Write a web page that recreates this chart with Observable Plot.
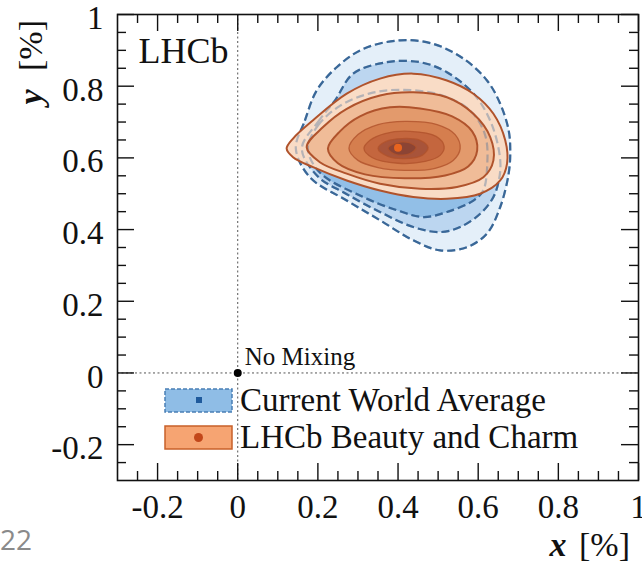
<!DOCTYPE html>
<html><head><meta charset="utf-8">
<script src="https://cdn.jsdelivr.net/npm/d3@7"></script>
<script src="https://cdn.jsdelivr.net/npm/@observablehq/plot@0.6"></script>
<style>
body{margin:0;background:#fff;}
#chart{position:relative;width:642px;height:564px;overflow:hidden;background:#fff}
</style></head><body><div id="chart"></div>
<script>
// ---- tick values ----
const xMajor = [-0.2, 0, 0.2, 0.4, 0.6, 0.8, 1];
const yMajor = [-0.2, 0, 0.2, 0.4, 0.6, 0.8, 1];
const xMinor = [-0.25,-0.15,-0.1,-0.05,0.05,0.1,0.15,0.25,0.3,0.35,0.45,0.5,0.55,0.65,0.7,0.75,0.85,0.9,0.95];
const yMinor = [-0.25,-0.15,-0.1,-0.05,0.05,0.1,0.15,0.25,0.3,0.35,0.45,0.5,0.55,0.65,0.7,0.75,0.85,0.9,0.95];

// ---- Current World Average contours (x,y in %) ----
const wa3 = [[0.145,0.626],[0.1675,0.704],[0.197,0.788],[0.247,0.853],[0.313,0.904],[0.405,0.928],[0.488,0.918],[0.563,0.877],[0.622,0.816],[0.655,0.751],[0.676,0.677],[0.68,0.62],[0.676,0.556],[0.655,0.463],[0.622,0.389],[0.572,0.351],[0.505,0.342],[0.438,0.370],[0.355,0.426],[0.272,0.481],[0.18,0.546]];
const wa2 = [[0.16,0.626],[0.2,0.7],[0.2425,0.760],[0.288,0.835],[0.372,0.867],[0.455,0.867],[0.522,0.839],[0.5925,0.774],[0.635,0.690],[0.655,0.593],[0.652,0.540],[0.638,0.491],[0.605,0.444],[0.555,0.407],[0.505,0.393],[0.438,0.407],[0.355,0.449],[0.27,0.500],[0.2,0.548]];
const wa1 = [[0.175,0.626],[0.2,0.69],[0.255,0.745],[0.33,0.78],[0.405,0.79],[0.505,0.776],[0.58,0.732],[0.6175,0.663],[0.6225,0.579],[0.6125,0.509],[0.588,0.481],[0.522,0.449],[0.463,0.435],[0.397,0.454],[0.3125,0.491],[0.205,0.559]];

// ---- LHCb Beauty and Charm contours (outer to inner) ----
const lhcb1 = [[0.122,0.626],[0.138,0.602],[0.188,0.574],[0.272,0.537],[0.355,0.509],[0.438,0.491],[0.522,0.486],[0.605,0.500],[0.655,0.537],[0.672,0.584],[0.6675,0.649],[0.638,0.723],[0.588,0.779],[0.522,0.816],[0.438,0.835],[0.355,0.821],[0.272,0.779],[0.188,0.705],[0.138,0.654]];
const lhcb2 = [[0.172,0.630],[0.205,0.588],[0.272,0.556],[0.355,0.528],[0.455,0.514],[0.547,0.519],[0.613,0.546],[0.638,0.593],[0.63,0.658],[0.588,0.723],[0.522,0.769],[0.438,0.783],[0.355,0.774],[0.272,0.737],[0.213,0.686]];
const lhcb3 = [[0.225,0.626],[0.25,0.585],[0.3175,0.554],[0.4175,0.543],[0.5175,0.551],[0.575,0.576],[0.5975,0.621],[0.585,0.674],[0.535,0.716],[0.455,0.738],[0.38,0.741],[0.305,0.716],[0.255,0.674]];
const lhcb4 = [[0.2775,0.626],[0.30,0.593],[0.35,0.573],[0.4175,0.565],[0.4925,0.571],[0.5375,0.593],[0.555,0.626],[0.5425,0.665],[0.4975,0.693],[0.4175,0.702],[0.35,0.693],[0.30,0.665]];
const lhcb5 = [[0.315,0.626],[0.335,0.601],[0.40,0.585],[0.4675,0.590],[0.505,0.607],[0.515,0.632],[0.495,0.660],[0.43,0.674],[0.3675,0.668],[0.33,0.649]];
const lhcb6 = [[0.35,0.626],[0.375,0.604],[0.4175,0.598],[0.46,0.607],[0.475,0.629],[0.455,0.649],[0.41,0.654],[0.37,0.646]];
const lhcb7 = [[0.375,0.626],[0.395,0.609],[0.43,0.612],[0.445,0.629],[0.425,0.643],[0.39,0.640]];
const lhcbCentre = [[0.40, 0.628]];
const noMixing = [[0, 0]];

const waContours = [wa3, wa2, wa1];
const waFills = ["#e4eff9", "#bcd6f0", "#92bfe7"];
const lhcbContours = [lhcb1, lhcb2, lhcb3, lhcb4, lhcb5, lhcb6, lhcb7];
const lhcbFills = ["#f9dcc6", "#f0bc98", "#e39a6c", "#d57e4e", "#c4663e", "#a8543a", "#8c4434"];

const W = 642, H = 564, mL = 117, mR = 4, mT = 14, mB = 84;
const FW = W - mL - mR, FH = H - mT - mB;
const serif = "'Liberation Serif','Times New Roman',serif";
const blueLine = "#3a6898", orangeLine = "#b0532c";

const cont = (data, o) => Plot.line(data, {x: d => d[0], y: d => d[1], curve: "catmull-rom-closed", ...o});
const tickStyle = {stroke: "#111", strokeWidth: 1.4};

const marks = [
  Plot.ruleX([0], {stroke: "#555", strokeDasharray: "2,2.5", strokeWidth: 1}),
  Plot.ruleY([0], {stroke: "#555", strokeDasharray: "2,2.5", strokeWidth: 1}),
  ...waContours.map((c, i) => cont(c, {fill: waFills[i], stroke: blueLine, strokeWidth: 2.2, strokeDasharray: "8,4", strokeLinecap: "butt"})),
  ...lhcbContours.map((c, i) => cont(c, {fill: lhcbFills[i], stroke: "none"})),
  ...waContours.map(c => cont(c, {fill: "none", stroke: blueLine, strokeOpacity: 0.35, strokeWidth: 2.2, strokeDasharray: "8,4", strokeLinecap: "butt"})),
  ...lhcbContours.map((c, i) => cont(c, {fill: "none", stroke: orangeLine, strokeWidth: i < 3 ? 2 : 1.3, strokeOpacity: i < 3 ? 1 : 0.8})),
  Plot.dot(lhcbCentre, {x: d => d[0], y: d => d[1], r: 4, fill: "#e8641e", stroke: "none"}),
  Plot.dot(noMixing, {x: d => d[0], y: d => d[1], r: 4, fill: "#000", stroke: "none"}),
  Plot.text(noMixing, {x: d => d[0], y: d => d[1], text: () => "No Mixing", dx: 7, dy: -8, textAnchor: "start", lineAnchor: "bottom", fontSize: 25, fill: "#111"}),
  Plot.text(["LHCb"], {text: d => d, frameAnchor: "top-left", dx: 21, dy: 23, lineAnchor: "top", textAnchor: "start", fontSize: 36, fill: "#111"}),
  // inward ticks on all four sides
  Plot.ruleX(xMajor, {...tickStyle, insetTop: FH - 17}),
  Plot.ruleX(xMajor, {...tickStyle, insetBottom: FH - 17}),
  Plot.ruleX(xMinor, {...tickStyle, insetTop: FH - 9}),
  Plot.ruleX(xMinor, {...tickStyle, insetBottom: FH - 9}),
  Plot.ruleY(yMajor, {...tickStyle, insetRight: FW - 17}),
  Plot.ruleY(yMajor, {...tickStyle, insetLeft: FW - 17}),
  Plot.ruleY(yMinor, {...tickStyle, insetRight: FW - 9}),
  Plot.ruleY(yMinor, {...tickStyle, insetLeft: FW - 9}),
  Plot.axisX(xMajor, {tickSize: 0, tickPadding: 14, tickFormat: d => String(d), fontSize: 33, label: null, fill: "#111"}),
  Plot.axisY(yMajor, {tickSize: 0, tickPadding: 14, tickFormat: d => String(d), fontSize: 33, label: null, dy: 4, fill: "#111"}),
  Plot.frame({stroke: "#111", strokeWidth: 1.6})
];

const svgEl = Plot.plot({
  width: W, height: H,
  marginLeft: mL, marginRight: mR, marginTop: mT, marginBottom: mB,
  x: {domain: [-0.3, 1]},
  y: {domain: [-0.3, 1]},
  style: {fontFamily: serif, background: "white", overflow: "visible", color: "#111"},
  marks
});
document.getElementById("chart").appendChild(svgEl);

// ---- legend and axis titles ----
const svg = d3.select(svgEl);
const leg = svg.append("g").attr("font-family", serif).attr("text-anchor", "start");
leg.append("rect").attr("x", 165).attr("y", 389).attr("width", 67).attr("height", 23)
  .attr("fill", "#8fbde6").attr("stroke", "#4a7fb5").attr("stroke-width", 1.5).attr("stroke-dasharray", "4,2");
leg.append("rect").attr("x", 196).attr("y", 397).attr("width", 6).attr("height", 6).attr("fill", "#1f5a9c");
leg.append("rect").attr("x", 165).attr("y", 426).attr("width", 67).attr("height", 23)
  .attr("fill", "#f6a472").attr("stroke", "#c8602a").attr("stroke-width", 1.5);
leg.append("circle").attr("cx", 198.5).attr("cy", 437.5).attr("r", 4.5).attr("fill", "#c2471a");
leg.append("text").attr("x", 240).attr("y", 411).attr("font-size", 33).attr("fill", "#111").text("Current World Average");
leg.append("text").attr("x", 240).attr("y", 448).attr("font-size", 33).attr("fill", "#111").text("LHCb Beauty and Charm");

const xt = svg.append("text").attr("x", 630).attr("y", 556).attr("text-anchor", "end")
  .attr("font-family", serif).attr("font-size", 34).attr("fill", "#111");
xt.append("tspan").attr("font-weight", "bold").attr("font-style", "italic").text("x");
xt.append("tspan").attr("dx", 4).text(" [%]");

const yt = svg.append("text").attr("transform", "translate(42,20) rotate(-90)").attr("text-anchor", "end")
  .attr("font-family", serif).attr("font-size", 34).attr("fill", "#111");
yt.append("tspan").attr("font-weight", "bold").attr("font-style", "italic").text("y");
yt.append("tspan").attr("dx", 10).text(" [%]");

svg.append("text").attr("x", 0).attr("y", 550).attr("text-anchor", "start")
  .attr("font-family", "'Open Sans',sans-serif").attr("font-size", 28).attr("fill", "#8a8a8a").text("22");
</script>
</body></html>
